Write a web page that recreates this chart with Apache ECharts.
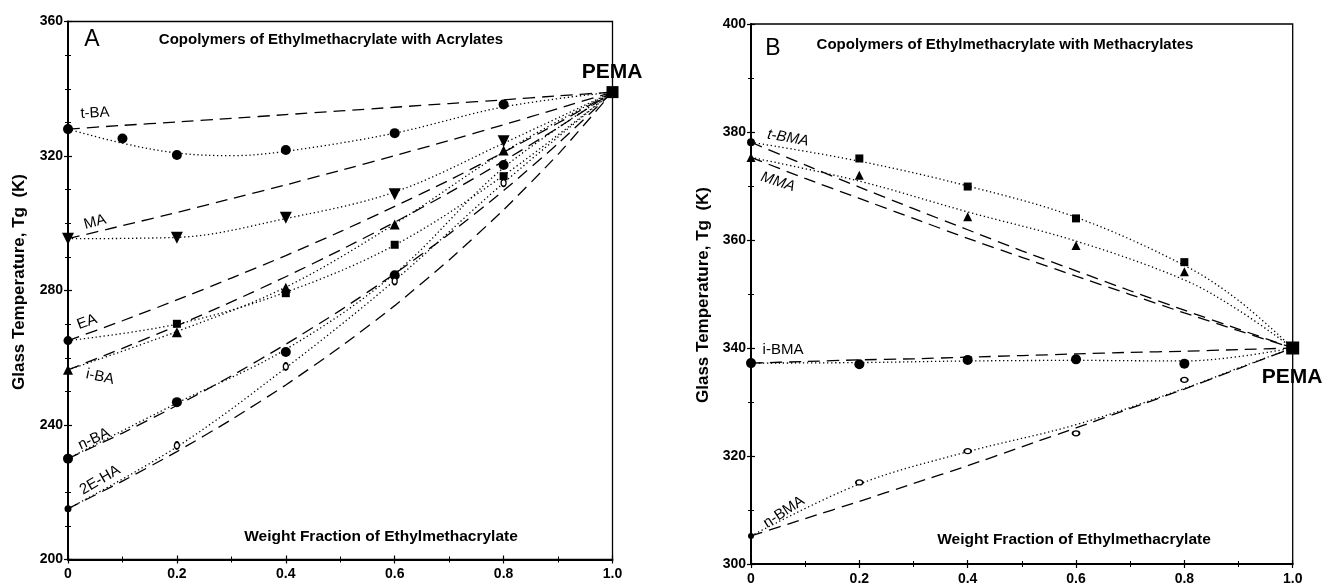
<!DOCTYPE html>
<html><head><meta charset="utf-8">
<script src="https://cdn.jsdelivr.net/npm/echarts@6/dist/echarts.min.js"></script>
<style>html,body{margin:0;padding:0;background:#fff}#c{width:1325px;height:586px}</style>
</head><body><div id="c"></div>
<script>
// ---- Panel A: EMA copolymers with acrylates ----
// weight fraction of ethyl methacrylate for the measured samples
const fracA = [0, 0.2, 0.4, 0.6, 0.8];
const fracA_tBA = [0, 0.1, 0.2, 0.4, 0.6, 0.8];
// measured glass temperatures (K)
const tgA_tBA = [328.0, 325.2, 320.3, 321.8, 326.8, 335.3];
const tgA_MA  = [295.4, 295.7, 301.6, 308.6, 324.4];
const tgA_EA  = [265.1, 270.1, 279.2, 293.6, 314.0];
const tgA_iBA = [256.4, 267.6, 280.8, 299.6, 321.6];
const tgA_nBA = [230.0, 246.8, 261.7, 284.5, 317.3];
const tgA_EHA = [215.1, 233.9, 257.4, 282.8, 312.0];
const pemaA = 339.0;

// smoothed curves through the data (dotted)
const fitXA = [0, 0.2, 0.4, 0.6, 0.8, 1.0];
const fitXA_tBA = [0, 0.1, 0.2, 0.3, 0.4, 0.6, 0.8, 1.0];
const fitA_tBA = [328.0, 323.8, 320.9, 320.1, 321.4, 326.8, 334.6, 339.0];
const fitA_MA  = [295.4, 295.8, 301.4, 309.3, 323.8, 339.0];
const fitA_EA  = [265.1, 270.0, 279.5, 293.5, 314.2, 339.0];
const fitA_iBA = [256.4, 267.8, 281.0, 299.8, 321.2, 339.0];
const fitA_nBA = [230.0, 246.5, 262.5, 285.0, 316.5, 339.0];
const fitA_EHA = [215.1, 233.5, 257.0, 283.0, 312.0, 339.0];

// Fox-equation predictions (dashed)
const foxX = [0, 0.1, 0.2, 0.3, 0.4, 0.5, 0.6, 0.7, 0.8, 0.9, 1.0];
const foxA_tBA = [328.0, 329.1, 330.1, 331.2, 332.3, 333.4, 334.5, 335.6, 336.7, 337.9, 339.0];
const foxA_MA  = [295.4, 299.3, 303.2, 307.3, 311.4, 315.7, 320.1, 324.6, 329.3, 334.1, 339.0];
const foxA_EA  = [265.1, 271.0, 277.2, 283.7, 290.4, 297.5, 305.0, 312.8, 321.1, 329.8, 339.0];
const foxA_iBA = [256.4, 262.8, 269.5, 276.6, 284.1, 292.0, 300.3, 309.1, 318.5, 328.4, 339.0];
const foxA_nBA = [230.0, 237.6, 245.8, 254.6, 264.0, 274.1, 285.0, 296.8, 309.7, 323.7, 339.0];
const foxA_EHA = [215.1, 223.3, 232.1, 241.6, 251.9, 263.2, 275.5, 289.1, 304.0, 320.5, 339.0];

// ---- Panel B: EMA copolymers with methacrylates ----
const fracB = [0, 0.2, 0.4, 0.6, 0.8];
const tgB_tBMA = [378.1, 375.1, 369.9, 364.0, 355.9];
const tgB_MMA  = [375.3, 372.0, 364.3, 359.0, 354.1];
const tgB_iBMA = [337.2, 337.0, 337.8, 337.9, 337.1];
const tgB_nBMA = [305.2, 315.1, 320.9, 324.2, 334.1];
const pemaB = 340.0;

const fitXB = [0, 0.2, 0.4, 0.6, 0.8, 0.9, 1.0];
const fitB_tBMA = [378.1, 374.6, 370.0, 364.2, 355.3, 348.8, 340.0];
const fitB_MMA  = [375.3, 370.9, 365.2, 359.8, 352.6, 347.0, 340.0];
const fitB_iBMA = [337.2, 337.3, 337.6, 337.7, 337.6, 338.4, 340.0];
const fitB_nBMA = [305.2, 314.8, 320.8, 325.8, 332.5, 336.3, 340.0];

const foxB_tBMA = [378.1, 373.9, 369.8, 365.8, 361.9, 358.0, 354.3, 350.6, 347.0, 343.5, 340.0];
const foxB_MMA  = [375.3, 371.4, 367.7, 364.0, 360.3, 356.8, 353.3, 349.9, 346.5, 343.2, 340.0];
const foxB_iBMA = [337.2, 337.5, 337.8, 338.0, 338.3, 338.6, 338.9, 339.2, 339.4, 339.7, 340.0];
const foxB_nBMA = [305.2, 308.4, 311.6, 314.9, 318.2, 321.7, 325.2, 328.8, 332.4, 336.2, 340.0];

const FONT = 'Liberation Sans, Arial, sans-serif';
const zip = (xs, ys) => xs.map((x, i) => [x, ys[i]]);

const DASH = [12, 7];
const DOT = [1.3, 2.7];

function curve(g, xs, ys, dash, smooth) {
  return {
    type: 'line', xAxisIndex: g, yAxisIndex: g, data: zip(xs, ys),
    showSymbol: false, smooth: smooth, silent: true,
    lineStyle: { color: '#000', width: 1.3, type: dash, cap: 'butt' }, z: 2
  };
}
const fox = (g, ys) => curve(g, foxX, ys, DASH, 0.2);
const fit = (g, xs, ys) => curve(g, xs, ys, DOT, 0.35);

// homopolymer end point (x = 0) drawn filled
function points(g, xs, ys, symbol, size, opts = {}) {
  const data = zip(xs, ys).map((p, i) => {
    if (i === 0 && opts.homo) return { value: p, symbol: opts.homo, symbolSize: opts.homoSize || size, itemStyle: { color: '#000', borderWidth: 0, opacity: 1 } };
    return { value: p };
  });
  return {
    type: 'scatter', xAxisIndex: g, yAxisIndex: g, data, symbol, symbolSize: size,
    symbolRotate: opts.rotate || 0, silent: true, z: 5,
    itemStyle: opts.open ? { color: '#fff', borderColor: '#000', borderWidth: 1.5, opacity: 1 } : { color: '#000', opacity: 1 }
  };
}

function xAxis(g, inside) {
  return {
    type: 'value', gridIndex: g, min: 0, max: 1, interval: 0.2, position: 'bottom',
    axisLine: { show: !inside, onZero: false, lineStyle: { color: '#000', width: 2 } },
    axisTick: { show: true, inside, length: 4, lineStyle: { color: '#000', width: 1.2 } },
    minorTick: { show: true, splitNumber: 2, length: 3, lineStyle: { color: '#000', width: 1 } },
    axisLabel: { show: !inside, color: '#000', fontFamily: FONT, fontWeight: 'bold', fontSize: 14, margin: 8,
      formatter: v => v === 0 ? '0' : v.toFixed(1) },
    splitLine: { show: false }
  };
}
function yAxis(g, inside, min, max, interval, minorSplit) {
  return {
    type: 'value', gridIndex: g, min, max, interval, position: 'left',
    axisLine: { show: !inside, onZero: false, lineStyle: { color: '#000', width: 2 } },
    axisTick: { show: true, inside, length: 4, lineStyle: { color: '#000', width: 1.2 } },
    minorTick: { show: true, splitNumber: minorSplit, length: 3, lineStyle: { color: '#000', width: 1 } },
    axisLabel: { show: !inside, color: '#000', fontFamily: FONT, fontWeight: 'bold', fontSize: 14, margin: 5 },
    splitLine: { show: false }
  };
}

function txt(text, x, y, o = {}) {
  return {
    type: 'text', x, y, rotation: (o.rot || 0) * Math.PI / 180, z: 10, silent: true,
    style: {
      text, fill: '#000', fontFamily: FONT, fontSize: o.size || 14, fontWeight: o.bold ? 'bold' : 'normal',
      fontStyle: o.italic ? 'italic' : 'normal', textAlign: 'center', textVerticalAlign: 'middle'
    }
  };
}

const series = [
  // panel A
  fox(0, foxA_tBA), fox(0, foxA_MA), fox(0, foxA_EA), fox(0, foxA_iBA), fox(0, foxA_nBA), fox(0, foxA_EHA),
  fit(0, fitXA_tBA, fitA_tBA), fit(0, fitXA, fitA_MA), fit(0, fitXA, fitA_EA),
  fit(0, fitXA, fitA_iBA), fit(0, fitXA, fitA_nBA), fit(0, fitXA, fitA_EHA),
  points(0, fracA_tBA, tgA_tBA, 'circle', 10),
  points(0, fracA, tgA_MA, 'triangle', 12, { rotate: 180 }),
  points(0, fracA, tgA_EA, 'rect', 8, { homo: 'circle', homoSize: 9 }),
  points(0, fracA, tgA_iBA, 'triangle', 10),
  points(0, fracA, tgA_nBA, 'circle', 10),
  points(0, fracA, tgA_EHA, 'circle', [5, 7], { open: true, homo: 'circle', homoSize: 7 }),
  points(0, [1.0], [pemaA], 'rect', 12),
  // panel B
  fox(1, foxB_tBMA), fox(1, foxB_MMA), fox(1, foxB_iBMA), fox(1, foxB_nBMA),
  fit(1, fitXB, fitB_tBMA), fit(1, fitXB, fitB_MMA), fit(1, fitXB, fitB_iBMA), fit(1, fitXB, fitB_nBMA),
  points(1, fracB, tgB_tBMA, 'rect', 8, { homo: 'circle', homoSize: 8 }),
  points(1, fracB, tgB_MMA, 'triangle', 9),
  points(1, fracB, tgB_iBMA, 'circle', 10),
  points(1, fracB, tgB_nBMA, 'circle', [7, 5], { open: true, homo: 'circle', homoSize: 6 }),
  points(1, [1.0], [pemaB], 'rect', 13)
];

const chart = echarts.init(document.getElementById('c'), null, { renderer: 'canvas' });
chart.setOption({
  backgroundColor: '#fff',
  animation: false,
  grid: [
    { left: 68, top: 21.5, right: 712.5, bottom: 26.5, show: true, borderColor: '#000', borderWidth: 1.3 },
    { left: 751, top: 24, right: 32.3, bottom: 21, show: true, borderColor: '#000', borderWidth: 1.3 }
  ],
  xAxis: [xAxis(0, false), xAxis(1, false), xAxis(0, true), xAxis(1, true)],
  yAxis: [yAxis(0, false, 200, 360, 40, 4), yAxis(1, false, 300, 400, 20, 2),
          yAxis(0, true, 200, 360, 40, 4), yAxis(1, true, 300, 400, 20, 2)],
  series,
  graphic: [
    // panel A annotations
    txt('A', 92, 40, { size: 23 }),
    txt('Copolymers of Ethylmethacrylate with Acrylates', 331, 40, { size: 15, bold: true }),
    txt('Weight Fraction of Ethylmethacrylate', 381, 537, { size: 15.5, bold: true }),
    txt('Glass Temperature, Tg  (K)', 19, 282, { size: 17, bold: true, rot: 90 }),
    txt('PEMA', 612, 72, { size: 21, bold: true }),
    txt('t-BA', 95, 113, { size: 15, rot: 3 }),
    txt('MA', 95, 222, { size: 15, rot: 15 }),
    txt('EA', 87, 322, { size: 15, rot: 20 }),
    txt('i-BA', 100, 377, { size: 15, rot: -12 }),
    txt('n-BA', 94, 439, { size: 15, rot: 25 }),
    txt('2E-HA', 100, 480, { size: 15, rot: 30 }),
    // panel B annotations
    txt('B', 773, 49, { size: 23 }),
    txt('Copolymers of Ethylmethacrylate with Methacrylates', 1005, 45, { size: 15, bold: true }),
    txt('Weight Fraction of Ethylmethacrylate', 1074, 540, { size: 15.5, bold: true }),
    txt('Glass Temperature, Tg  (K)', 703, 295, { size: 17, bold: true, rot: 90 }),
    txt('PEMA', 1292, 377, { size: 21, bold: true }),
    txt('t-BMA', 788, 138, { size: 15, italic: true, rot: -10 }),
    txt('MMA', 778, 182, { size: 15, italic: true, rot: -18 }),
    txt('i-BMA', 783, 350, { size: 15 }),
    txt('n-BMA', 784, 512, { size: 15, rot: 33 })
  ]
});
</script></body></html>
